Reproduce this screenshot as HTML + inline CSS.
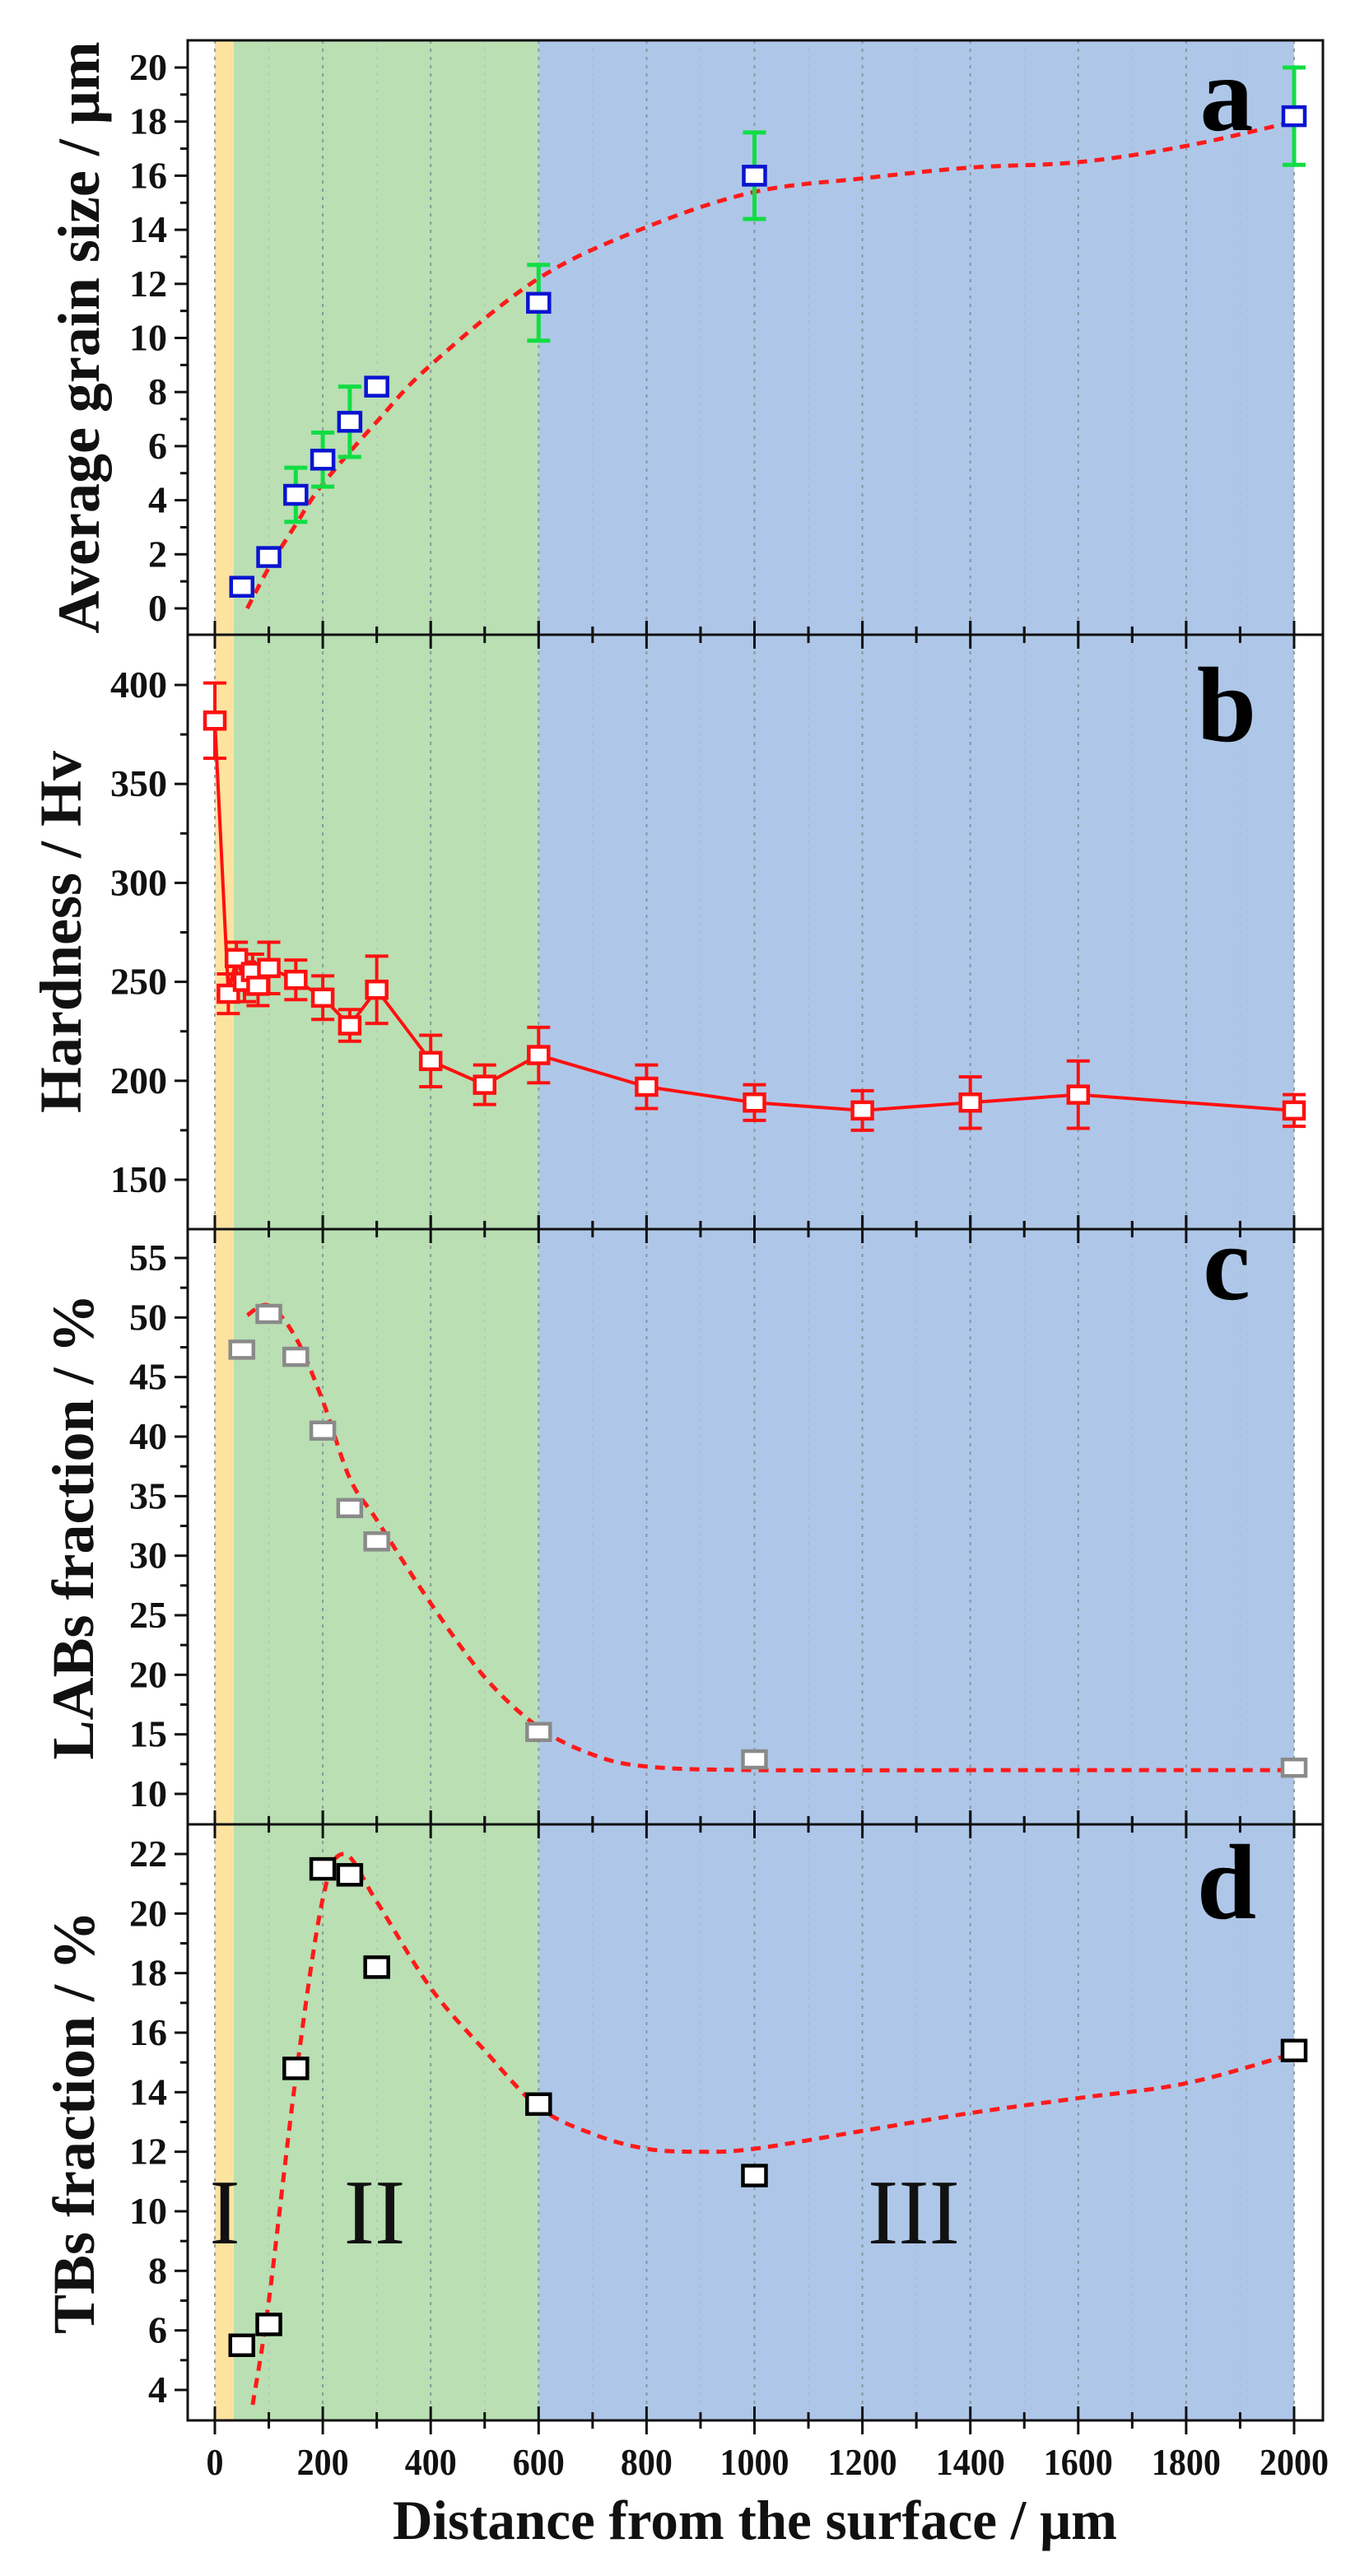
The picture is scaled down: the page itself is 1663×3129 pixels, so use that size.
<!DOCTYPE html>
<html><head><meta charset="utf-8">
<style>
html,body{margin:0;padding:0;background:#fff;}
svg{display:block;}
text{font-family:"Liberation Serif",serif;}
</style></head>
<body>
<svg id="chart" width="1663" height="3129" viewBox="0 0 1663 3129" xmlns="http://www.w3.org/2000/svg"></svg>
<script>
// ---- data ----
const xTicks = [0,200,400,600,800,1000,1200,1400,1600,1800,2000];
const xTickLabels = ["0","200","400","600","800","1000","1200","1400","1600","1800","2000"];
const regionBounds = [0,35,600,2000];
const regionNames = ["I","II","III"];

const grainX = [50,100,150,200,250,300,600,1000,2000];
const grainY = [0.8,1.9,4.2,5.5,6.9,8.2,11.3,16.0,18.2];
const grainErr = [0.2,0.2,1.0,1.0,1.3,0.3,1.4,1.6,1.8];
const grainFitX = [60,100,150,200,300,400,600,800,1000,1200,1400,1600,1800,2000];
const grainFitY = [0.0,1.5,3.1,4.6,6.9,9.0,12.2,14.1,15.4,15.9,16.3,16.5,17.1,18.0];

const hardX = [0,25,40,55,70,80,100,150,200,250,300,400,500,600,800,1000,1200,1400,1600,2000];
const hardY = [382,244,262,250,255,248,257,251,242,228,246,210,198,213,197,189,185,189,193,185];
const hardErr = [19,10,8,10,9,10,13,10,11,8,17,13,10,14,11,9,10,13,17,8];

const labX = [50,100,150,200,250,300,600,1000,2000];
const labY = [47.3,50.3,46.7,40.5,34.0,31.2,15.2,12.9,12.2];
const labFitX = [60,100,150,200,250,300,400,500,600,700,800,1000,1500,2000];
const labFitY = [50.2,51.0,48.3,43.0,36.5,33.0,26.0,19.8,15.6,13.3,12.3,12.0,12.0,12.0];

const tbX = [50,100,150,200,250,300,600,1000,2000];
const tbY = [5.5,6.2,14.8,21.5,21.3,18.2,13.6,11.2,15.4];
const tbFitX = [70,100,150,200,240,300,400,500,600,700,800,900,1000,1200,1400,1600,1800,2000];
const tbFitY = [3.5,7.0,14.5,20.5,22.0,20.4,17.5,15.4,13.5,12.6,12.1,12.0,12.1,12.7,13.3,13.8,14.3,15.3];

const aTicks = [0,2,4,6,8,10,12,14,16,18,20];
const bTicks = [150,200,250,300,350,400];
const cTicks = [10,15,20,25,30,35,40,45,50,55];
const dTicks = [4,6,8,10,12,14,16,18,20,22];

// ---- layout ----
const NS="http://www.w3.org/2000/svg";
const svg=document.getElementById('chart');
const AX_L=228, AX_R=1607;
function X(v){return 261+(v-0)*(1572-261)/2000;}
function mk(tag,attrs,parent){const e=document.createElementNS(NS,tag);for(const k in attrs)e.setAttribute(k,attrs[k]);(parent||svg).appendChild(e);return e;}
function yScale(v1,p1,v2,p2){return v=>p1+(v-v1)*(p2-p1)/(v2-v1);}
function smooth(pts){
  let d="M"+pts[0][0]+","+pts[0][1];
  for(let i=0;i<pts.length-1;i++){
    const p0=pts[Math.max(0,i-1)],p1=pts[i],p2=pts[i+1],p3=pts[Math.min(pts.length-1,i+2)];
    const c1x=p1[0]+(p2[0]-p0[0])/6,c1y=p1[1]+(p2[1]-p0[1])/6;
    const c2x=p2[0]-(p3[0]-p1[0])/6,c2y=p2[1]-(p3[1]-p1[1])/6;
    d+=" C"+c1x+","+c1y+" "+c2x+","+c2y+" "+p2[0]+","+p2[1];
  }
  return d;
}

const panels=[
 {id:'a',top:49,bot:771,Y:yScale(20,82,0,739),ticks:aTicks,minor:1,title:"Average grain size / μm",tx:120,letterY:158},
 {id:'b',top:771,bot:1493,Y:yScale(400,832,150,1433),ticks:bTicks,minor:25,title:"Hardness / Hv",tx:98,letterY:900},
 {id:'c',top:1493,bot:2216,Y:yScale(55,1528,10,2179),ticks:cTicks,minor:2.5,title:"LABs fraction / %",tx:113,letterY:1578},
 {id:'d',top:2216,bot:2940,Y:yScale(22,2252,4,2903),ticks:dTicks,minor:1,title:"TBs fraction / %",tx:114,letterY:2330}
];
const regionColors=["#fde3a0","#b9dfb3","#aec7e8"];

panels.forEach(p=>{
  const g=mk('g',{});
  
  
  for(let i=0;i<3;i++){
    const r=mk('rect',{x:X(regionBounds[i]),y:p.top,width:X(regionBounds[i+1])-X(regionBounds[i]),height:p.bot-p.top,fill:regionColors[i]},g);
    
    
  }
  for(let v=0;v<=2000;v+=100){
    const major=v%200===0;
    const l=mk('line',{x1:X(v),x2:X(v),y1:p.top,y2:p.bot,stroke:major?"#7f8c8d":"#9aa9b8","stroke-width":major?2:1.2,"stroke-dasharray":major?"4,6":"3,7",opacity:major?0.8:0.5},g);
    
    
  }
  const fr=mk('rect',{x:AX_L,y:p.top,width:AX_R-AX_L,height:p.bot-p.top,fill:"none",stroke:"#111","stroke-width":3},g);
  
  
  const edges=[p.bot]; if(p.id!=='a') edges.push(p.top);
  edges.forEach(ey=>{
    for(let v=0;v<=2000;v+=100){
      const major=v%200===0, h=major?17:10;
      const t=mk('line',{x1:X(v),x2:X(v),y1:ey-h,y2:ey+h,stroke:"#111","stroke-width":3},g);
      
      
    }
  });
  const lo=p.ticks[0],hi=p.ticks[p.ticks.length-1];
  for(let v=lo-p.minor;v<=hi+p.minor+1e-9;v+=p.minor){
    const y=p.Y(v); if(y<p.top+2||y>p.bot-2) continue;
    const major=p.ticks.some(t=>Math.abs(t-v)<1e-6);
    const t=mk('line',{x1:AX_L-(major?16:9),x2:AX_L,y1:y,y2:y,stroke:"#111","stroke-width":3},g);
    
    
  }
  p.ticks.forEach(v=>{
    const t=mk('text',{x:203,y:p.Y(v)+15,"text-anchor":"end","font-size":46,"font-weight":"bold",fill:"#111"},g);
    t.textContent=String(v);
    
    
  });
  const cy=(p.top+p.bot)/2;
  const tt=mk('text',{x:p.tx,y:cy,"text-anchor":"middle","font-size":72,"font-weight":"bold",fill:"#111",transform:`rotate(-90 ${p.tx} ${cy})`},g);
  tt.textContent=p.title;
  
  
  const lt=mk('text',{x:1490,y:p.letterY,"text-anchor":"middle","font-size":130,"font-weight":"bold",fill:"#000"},g);
  lt.textContent=p.id;
  
  
  p.g=g;
});

function fit(p,xs,ys,name){
  const path=mk('path',{d:smooth(xs.map((x,i)=>[X(x),p.Y(ys[i])])),fill:"none",stroke:"#ff1a1a","stroke-width":5,"stroke-dasharray":"12,9"},p.g);
  
  
}
function errs(p,xs,ys,es,color,w,cap,name){
  xs.forEach((x,i)=>{
    const cx=X(x),y1=p.Y(ys[i]+es[i]),y2=p.Y(ys[i]-es[i]);
    const e=mk('path',{d:`M${cx},${y1}V${y2}M${cx-cap},${y1}H${cx+cap}M${cx-cap},${y2}H${cx+cap}`,stroke:color,"stroke-width":w,fill:"none"},p.g);
    
    
  });
}
function marks(p,xs,ys,color,w,h,name){
  xs.forEach((x,i)=>{
    const r=mk('rect',{x:X(x)-w/2,y:p.Y(ys[i])-h/2,width:w,height:h,fill:"#fff",stroke:color,"stroke-width":4.5},p.g);
    
    
  });
}
const [pa,pb,pc,pd]=panels;
fit(pa,grainFitX,grainFitY,'grain-fit-curve');
errs(pa,grainX,grainY,grainErr,"#11dd44",5,14,'grain-error-bar');
marks(pa,grainX,grainY,"#0a14d0",26,22,'grain-point');
const hl=mk('polyline',{points:hardX.map((x,i)=>X(x)+","+pb.Y(hardY[i])).join(" "),fill:"none",stroke:"#ff1010","stroke-width":4},pb.g);


errs(pb,hardX,hardY,hardErr,"#ff1010",4,14,'hardness-error-bar');
marks(pb,hardX,hardY,"#ff1010",24,20,'hardness-point');
fit(pc,labFitX,labFitY,'lab-fit-curve');
marks(pc,labX,labY,"#8a8a8a",28,20,'lab-point');
fit(pd,tbFitX,tbFitY,'tb-fit-curve');
marks(pd,tbX,tbY,"#000",28,24,'tb-point');
const regLabelX=[273,455,1110];
regionNames.forEach((n,i)=>{
  const t=mk('text',{x:regLabelX[i],y:2725,"text-anchor":"middle","font-size":112,fill:"#111"},pd.g);
  t.textContent=n;
  
  
});
xTicks.forEach((v,i)=>{
  const t=mk('text',{x:X(v),y:3006,"text-anchor":"middle","font-size":46,"font-weight":"bold",fill:"#111",textLength:String(xTickLabels[i]).length*21,lengthAdjust:"spacingAndGlyphs"});
  t.textContent=xTickLabels[i];
  
  
});
const xt=mk('text',{x:917,y:3084,"text-anchor":"middle","font-size":68,"font-weight":"bold",fill:"#111",textLength:880,lengthAdjust:"spacingAndGlyphs"});
xt.textContent="Distance from the surface / μm";


</script>
</body></html>
